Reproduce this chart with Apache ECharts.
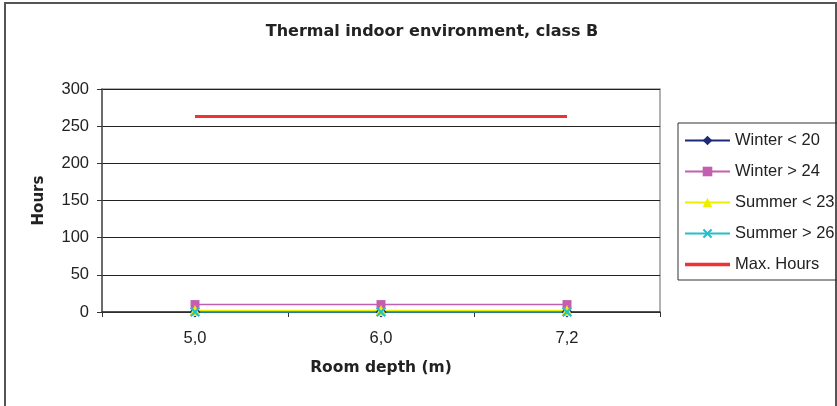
<!DOCTYPE html>
<html>
<head>
<meta charset="utf-8">
<script src="https://cdn.jsdelivr.net/npm/echarts@6/dist/echarts.min.js"></script>
<style>html,body{margin:0;padding:0;background:#fff}#c{width:837px;height:406px}</style>
</head>
<body>
<div id="c"></div>
<script>
var categories = ['5,0', '6,0', '7,2'];
var winterBelow20 = [0, 0, 0];
var winterAbove24 = [10, 10, 10];
var summerBelow23 = [2, 2, 2];
var summerAbove26 = [0, 0, 0];
var maxHours = [263, 263, 263];
var yTicks = [0, 50, 100, 150, 200, 250, 300];

var FONT = '"Liberation Sans", Arial, sans-serif';
var BOLD = '"DejaVu Sans", sans-serif';
var xSym = 'path://M0,1.5L1.5,0L5,3.5L8.5,0L10,1.5L6.5,5L10,8.5L8.5,10L5,6.5L1.5,10L0,8.5L3.5,5Z';

var chart = echarts.init(document.getElementById('c'), null, {renderer: 'canvas'});
function mk(name, data, color, symbol, size, lw) {
  return {
    name: name, type: 'line', data: data, symbol: symbol, symbolSize: size,
    showSymbol: symbol !== 'none',
    lineStyle: {color: color, width: lw}, itemStyle: {color: color},
    emphasis: {disabled: true}, animation: false, z: 3
  };
}
chart.setOption({
  animation: false,
  textStyle: {fontFamily: FONT},
  graphic: [{
    type: 'rect', shape: {x: 5, y: 3, width: 831, height: 410},
    style: {fill: 'none', stroke: '#555', lineWidth: 2}, silent: true
  }],
  title: {
    text: 'Thermal indoor environment, class B', left: 427, top: 19, textAlign: 'center',
    textStyle: {fontFamily: BOLD, fontSize: 16, fontWeight: 'bold', color: '#222'}
  },
  grid: {left: 102, top: 89, right: 177, bottom: 94, show: true, borderColor: '#999', borderWidth: 1.5},
  legend: {
    orient: 'vertical', left: 678, top: 123, padding: [9, 6, 7, 6], itemGap: 14,
    itemWidth: 45, itemHeight: 12, borderColor: '#333', borderWidth: 1,
    textStyle: {fontFamily: FONT, fontSize: 16.5, color: '#222'},
    data: [
      {name: 'Winter < 20'}, {name: 'Winter > 24'}, {name: 'Summer < 23'}, {name: 'Summer > 26'},
      {name: 'Max. Hours', icon: 'path://M0,0H45V3.4H0Z'}
    ]
  },
  xAxis: {
    type: 'category', data: categories, boundaryGap: true,
    name: 'Room depth (m)', nameLocation: 'middle', nameGap: 48, nameMoveOverlap: false,
    nameTextStyle: {fontFamily: BOLD, fontSize: 15.5, fontWeight: 'bold', color: '#222'},
    axisLine: {lineStyle: {color: '#333', width: 1.5}},
    axisTick: {show: true, alignWithLabel: false, length: 5, lineStyle: {color: '#333'}},
    axisLabel: {fontFamily: FONT, fontSize: 16.5, color: '#222', margin: 18}
  },
  yAxis: {
    type: 'value', min: yTicks[0], max: yTicks[yTicks.length - 1], interval: 50,
    name: 'Hours', nameLocation: 'middle', nameGap: 55, nameRotate: 90, nameMoveOverlap: false,
    nameTextStyle: {fontFamily: BOLD, fontSize: 15, fontWeight: 'bold', color: '#222'},
    axisLine: {show: true, lineStyle: {color: '#555', width: 1.5}},
    axisTick: {show: true, length: 5, lineStyle: {color: '#333'}},
    axisLabel: {fontFamily: FONT, fontSize: 16.5, color: '#222', margin: 13},
    splitLine: {show: true, lineStyle: {color: '#222', width: 1}}
  },
  series: [
    mk('Winter < 20', winterBelow20, '#1c2a78', 'diamond', 11, 1.5),
    mk('Winter > 24', winterAbove24, '#c45fb0', 'rect', 9, 1.5),
    mk('Summer < 23', summerBelow23, '#eeee00', 'triangle', 11, 1.5),
    mk('Summer > 26', summerAbove26, '#22bfcc', xSym, 10, 1.5),
    mk('Max. Hours', maxHours, '#ee3333', 'none', 0, 3)
  ]
});
</script>
</body>
</html>
